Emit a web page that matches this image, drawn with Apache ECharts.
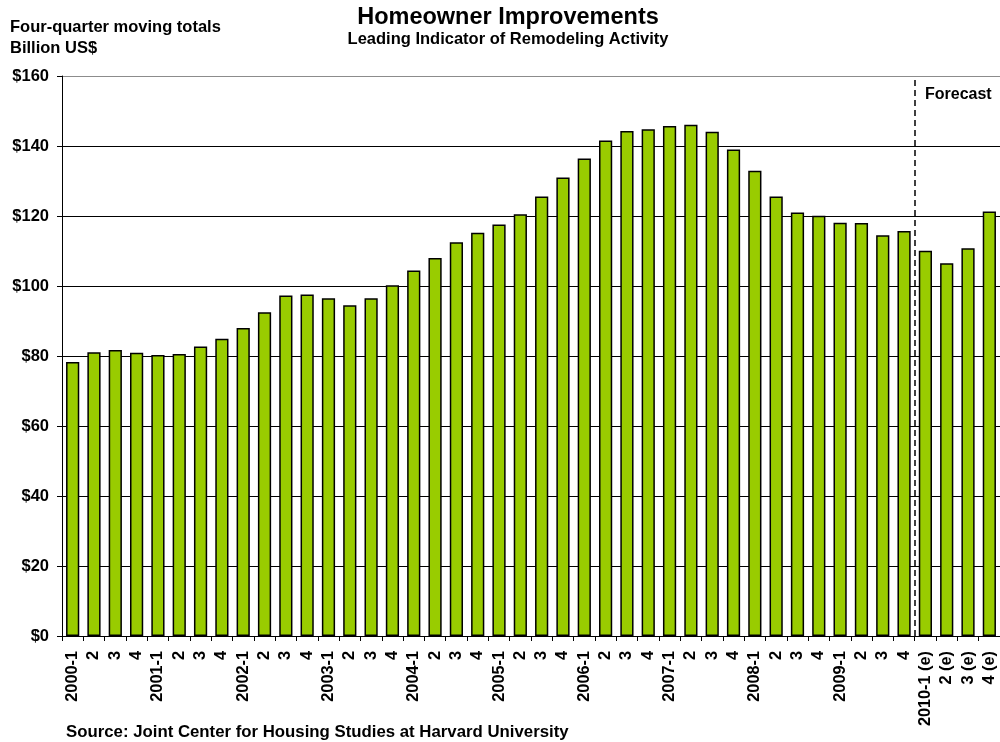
<!DOCTYPE html>
<html>
<head>
<meta charset="utf-8">
<script src="https://cdn.jsdelivr.net/npm/echarts@6/dist/echarts.min.js"></script>
<style>
  html, body { margin: 0; padding: 0; background: #fff; }
  #chart { width: 1000px; height: 742px; }
</style>
</head>
<body>
<div id="chart"></div>
<script>
// quarters, 2000-1 .. 2010-4 (e)
const quarters = [
  "2000-1", "2", "3", "4",
  "2001-1", "2", "3", "4",
  "2002-1", "2", "3", "4",
  "2003-1", "2", "3", "4",
  "2004-1", "2", "3", "4",
  "2005-1", "2", "3", "4",
  "2006-1", "2", "3", "4",
  "2007-1", "2", "3", "4",
  "2008-1", "2", "3", "4",
  "2009-1", "2", "3", "4",
  "2010-1 (e)", "2 (e)", "3 (e)", "4 (e)"
]

// four-quarter moving totals, billion US$
const improvements = [
  78.3, 81.1, 81.7, 80.9,
  80.3, 80.6, 82.7, 84.9,
  88.0, 92.5, 97.3, 97.6,
  96.5, 94.5, 96.5, 100.2,
  104.4, 108.0, 112.5, 115.2,
  117.6, 120.5, 125.6, 131.0,
  136.4, 141.6, 144.3, 144.8,
  145.7, 146.1, 144.1, 139.0,
  132.9, 125.6, 121.0, 120.1,
  118.1, 118.0, 114.5, 115.7,
  110.1, 106.5, 110.8, 121.3
]

const yTicks = [0, 20, 40, 60, 80, 100, 120, 140, 160]

/* first forecast quarter, the dashed line sits on its left edge */
const forecastFrom = quarters.indexOf("2010-1 (e)")

const font = "'Liberation Sans', Arial, Helvetica, sans-serif"
const boldText = { fontFamily: font, fontWeight: "bold", color: "#000" }

const chart = echarts.init(document.getElementById("chart"), null, { renderer: "canvas" })

const option = {
  animation: false,
  backgroundColor: "#fff",
  title: [
    {
      text: "Homeowner Improvements",
      left: 508,
      top: 6,
      padding: 0,
      textAlign: "center",
      textStyle: { ...boldText, fontSize: 23.5 }
    },
    {
      text: "Leading Indicator of Remodeling Activity",
      left: 508,
      top: 31,
      padding: 0,
      textAlign: "center",
      textStyle: { ...boldText, fontSize: 16.5 }
    },
    {
      text: "Four-quarter moving totals\nBillion US$",
      left: 10,
      top: 17,
      padding: 0,
      textStyle: { ...boldText, fontSize: 16.5, lineHeight: 21 }
    },
    {
      text: "Forecast",
      left: 925,
      top: 87,
      padding: 0,
      textStyle: { ...boldText, fontSize: 16 }
    },
    {
      text: "Source: Joint Center for Housing Studies at Harvard University",
      left: 66,
      top: 724,
      padding: 0,
      textStyle: { ...boldText, fontSize: 16.8 }
    }
  ],
  grid: {
    left: 62,
    right: 0,
    top: 76,
    bottom: 106,
    containLabel: false
  },
  xAxis: [
    {
      type: "category",
      data: quarters,
      axisLine: { lineStyle: { color: "#000", width: 1 } },
      axisTick: {
        show: true,
        alignWithLabel: false,
        interval: 0,
        length: 5,
        lineStyle: { color: "#000" }
      },
      axisLabel: {
        interval: 0,
        rotate: 90,
        margin: 15,
        ...boldText,
        fontSize: 16.3
      }
    },
    {
      // hidden linear axis, only used to place the forecast divider between bars
      type: "value",
      min: 0,
      max: quarters.length,
      show: false
    }
  ],
  yAxis: {
    type: "value",
    min: yTicks[0],
    max: yTicks[yTicks.length - 1],
    interval: 20,
    axisLine: { show: true, lineStyle: { color: "#000", width: 1 } },
    axisTick: { show: true, length: 5, lineStyle: { color: "#000" } },
    axisLabel: {
      margin: 13,
      ...boldText,
      fontSize: 16.5,
      formatter: (v) => "$" + v
    },
    splitLine: {
      show: true,
      lineStyle: {
        color: ["#000", "#000", "#000", "#000", "#000", "#000", "#000", "#000", "#8c8c8c"],
        width: 1
      }
    }
  },
  series: [
    {
      type: "bar",
      data: improvements,
      barCategoryGap: "38%",
      itemStyle: {
        color: "#99cc00",
        borderColor: "#000",
        borderWidth: 1.5
      }
    },
    {
      type: "line",
      xAxisIndex: 1,
      data: [],
      silent: true,
      markLine: {
        symbol: "none",
        silent: true,
        label: { show: false },
        lineStyle: { color: "#000", type: [6, 4], width: 1.5 },
        data: [{ xAxis: forecastFrom }]
      }
    }
  ]
}

chart.setOption(option)
</script>
</body>
</html>
